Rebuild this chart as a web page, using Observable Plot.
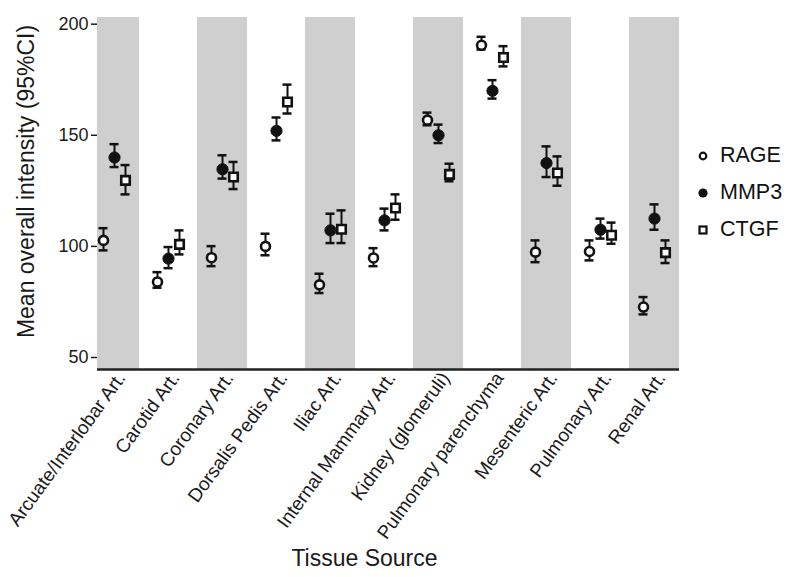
<!DOCTYPE html>
<html>
<head>
<meta charset="utf-8">
<script src="https://cdn.jsdelivr.net/npm/d3@7"></script>
<script src="https://cdn.jsdelivr.net/npm/@observablehq/plot@0.6"></script>
<style>
  html, body { margin: 0; padding: 0; background: #fff; }
  #wrap { position: relative; width: 800px; height: 577px; overflow: hidden; font-family: "Liberation Sans", Arial, sans-serif; }
  #legend { position: absolute; left: 695px; top: 137px; font-size: 21.5px; color: #111; }
  #legend .row { display: flex; align-items: center; height: 37px; }
  #legend svg { margin-right: 9px; flex: none; }
</style>
</head>
<body>
<div id="wrap"></div>
<script>
const categories = ["Arcuate/Interlobar Art.", "Carotid Art.", "Coronary Art.", "Dorsalis Pedis Art.", "Iliac Art.", "Internal Mammary Art.", "Kidney (glomeruli)", "Pulmonary parenchyma", "Mesenteric Art.", "Pulmonary Art.", "Renal Art."];
const seriesNames = ["RAGE", "MMP3", "CTGF"];
const rageMean = [102.7, 84.0, 94.9, 100.0, 82.7, 94.8, 156.8, 190.5, 97.4, 97.7, 72.7];
const rageLo   = [98.2, 81.4, 91.1, 96.0, 79.0, 91.1, 154.5, 188.6, 92.9, 93.7, 69.4];
const rageHi   = [108.2, 88.4, 100.1, 105.7, 87.7, 99.2, 160.2, 194.3, 102.7, 102.7, 77.2];
const mmp3Mean = [140.0, 94.5, 134.7, 152.0, 107.2, 111.7, 150.0, 170.0, 137.5, 107.5, 112.5];
const mmp3Lo   = [135.7, 90.2, 130.5, 147.7, 101.5, 107.2, 146.5, 166.5, 131.2, 103.5, 107.5];
const mmp3Hi   = [146.0, 99.7, 141.0, 158.0, 114.7, 117.0, 154.8, 174.8, 145.0, 112.5, 118.9];
const ctgfMean = [129.7, 100.9, 131.2, 165.0, 107.7, 117.3, 132.4, 185.0, 133.0, 105.0, 97.2];
const ctgfLo   = [123.4, 96.4, 125.8, 159.8, 101.5, 112.0, 129.3, 181.0, 127.3, 101.2, 92.5];
const ctgfHi   = [136.6, 107.2, 138.0, 172.8, 116.2, 123.4, 137.2, 190.1, 140.5, 110.7, 102.7];
const yTicks = [50, 100, 150, 200];
const yTitle = "Mean overall intensity (95%CI)";
const xTitle = "Tissue Source";

const rows = (m, lo, hi) => categories.map((c, i) => ({cat: c, mean: m[i], lo: lo[i], hi: hi[i]}));
const rage = rows(rageMean, rageLo, rageHi);
const mmp3 = rows(mmp3Mean, mmp3Lo, mmp3Hi);
const ctgf = rows(ctgfMean, ctgfLo, ctgfHi);
const shaded = categories.filter((c, i) => i % 2 === 0);

const capInset = 22.5;
function seriesMarks(data, dx, dotOpts) {
  return [
    Plot.ruleX(data, {x: "cat", y1: "lo", y2: "hi", dx, stroke: "#111", strokeWidth: 2}),
    Plot.tickY(data, {x: "cat", y: "hi", dx, stroke: "#111", strokeWidth: 2.5, insetLeft: capInset, insetRight: capInset}),
    Plot.tickY(data, {x: "cat", y: "lo", dx, stroke: "#111", strokeWidth: 2.5, insetLeft: capInset, insetRight: capInset}),
    Plot.dot(data, {x: "cat", y: "mean", dx, ...dotOpts})
  ];
}

const chart = Plot.plot({
  width: 800,
  height: 577,
  marginLeft: 97,
  marginRight: 121,
  marginTop: 17,
  marginBottom: 208,
  style: {fontFamily: "'Liberation Sans', Arial, sans-serif", fontSize: "18px", color: "#1a1a1a", background: "white"},
  x: {domain: categories, range: [86.6, 680.6], padding: 0, label: null, tickSize: 0, tickRotate: -54, tickPadding: 5},
  y: {domain: [44.6, 203], ticks: yTicks, tickSize: 6, tickPadding: 3, label: null, line: true},
  marks: [
    Plot.cell(shaded, {x: d => d, fill: "#cfcfcf", insetLeft: 2, insetRight: 2, clip: true}),
    Plot.ruleY([44.6], {stroke: "#222", strokeWidth: 2.5}),
    ...seriesMarks(rage, -11, {r: 4.5, fill: "white", stroke: "#111", strokeWidth: 2.6}),
    ...seriesMarks(mmp3, 0, {r: 5.6, fill: "#111", stroke: "#111", strokeWidth: 1}),
    ...seriesMarks(ctgf, 11, {symbol: "square", r: 4.8, fill: "white", stroke: "#111", strokeWidth: 2.6}),
    Plot.text([yTitle], {frameAnchor: "left", textAnchor: "middle", lineAnchor: "middle", rotate: -90, dx: -71, dy: -12, fontSize: 23, fill: "#1a1a1a"}),
    Plot.text([xTitle], {frameAnchor: "bottom", textAnchor: "middle", lineAnchor: "middle", dx: -24, dy: 189, fontSize: 23, fill: "#1a1a1a"})
  ]
});

const xAxis = d3.select(chart).selectAll('g[aria-label^="x-axis"]');
xAxis.selectAll("text").attr("font-size", 19).style("font-size", "19px");
xAxis.each(function() {
  const t = this.getAttribute("transform") || "";
  this.setAttribute("transform", (t + " translate(7,0)").trim());
});
d3.select(chart).selectAll('[aria-label^="y-axis"] path, [aria-label^="y-axis"] line').attr("stroke-width", 1.5);

const wrap = document.getElementById("wrap");
wrap.appendChild(chart);

const legend = document.createElement("div");
legend.id = "legend";
const icons = {
  RAGE: '<svg width="16" height="16"><circle cx="8" cy="8" r="3.3" fill="white" stroke="#111" stroke-width="2.2"/></svg>',
  MMP3: '<svg width="16" height="16"><circle cx="8" cy="8" r="4.6" fill="#111"/></svg>',
  CTGF: '<svg width="16" height="16"><rect x="4.5" y="4.5" width="7" height="7" fill="white" stroke="#111" stroke-width="2.2"/></svg>'
};
seriesNames.forEach(s => {
  const row = document.createElement("div");
  row.className = "row";
  row.innerHTML = icons[s] + "<span>" + s + "</span>";
  legend.appendChild(row);
});
wrap.appendChild(legend);
</script>
</body>
</html>
